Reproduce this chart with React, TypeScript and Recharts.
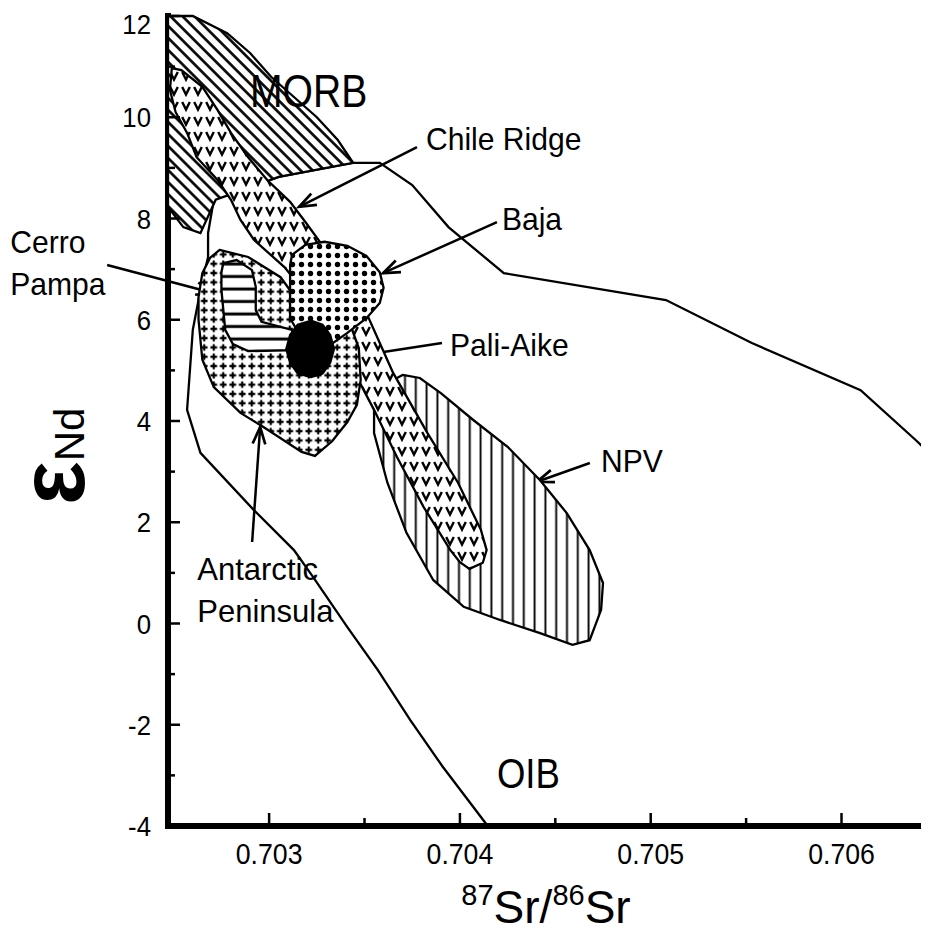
import React from 'react';
import { ScatterChart, Scatter, XAxis, YAxis, ReferenceDot, ReferenceLine } from 'recharts';

const FONT = "'Liberation Sans', Arial, Helvetica, sans-serif";

// ---- axes ----
const xDomain: [number, number] = [0.70247, 0.70649];
const yDomain: [number, number] = [-4, 12];
const xTicks = [0.703, 0.7035, 0.704, 0.7045, 0.705, 0.7055, 0.706];
const yTicks = [-4, -3, -2, -1, 0, 1, 2, 3, 4, 5, 6, 7, 8, 9, 10, 11, 12];

// ---- fields: [87Sr/86Sr, eNd] ----
const oibOutline: [number, number][] = [
  [0.70649, 3.25], [0.70639, 3.62], [0.7061, 4.61], [0.70553, 5.54], [0.70508, 6.39],
  [0.70423, 6.92], [0.70394, 7.83], [0.70375, 8.66], [0.70358, 9.1], [0.70344, 9.1],
  [0.70305, 8.82], [0.70271, 8.37], [0.70268, 7.71], [0.70268, 7.24], [0.70264, 6.59],
  [0.7026, 5.8], [0.70257, 4.22], [0.70264, 3.37], [0.70292, 2.24], [0.70313, 1.45],
  [0.70323, 0.92], [0.70341, -0.07], [0.70357, -0.92], [0.70374, -1.91], [0.70391, -2.83],
  [0.70414, -3.97], [0.70649, -3.97],
];

const morbField: [number, number][] = [
  [0.70247, 12], [0.7026, 12], [0.70278, 11.66], [0.7029, 11.27], [0.70301, 10.8],
  [0.70313, 10.4], [0.70325, 10.0], [0.70336, 9.55], [0.70344, 9.1], [0.70305, 8.82],
  [0.70272, 8.37], [0.70264, 7.71], [0.70255, 7.83], [0.70247, 8.23],
];

const chileRidgeField: [number, number][] = [
  [0.70249, 10.97], [0.70254, 10.93], [0.70265, 10.6], [0.70273, 10.14], [0.7028, 9.69],
  [0.70289, 9.21], [0.70299, 8.76], [0.70311, 8.33], [0.70319, 7.93], [0.70327, 7.52],
  [0.7034, 6.73], [0.70352, 6.05], [0.70365, 4.95], [0.70383, 3.76], [0.70399, 2.78],
  [0.70411, 1.85], [0.70414, 1.45], [0.70412, 1.2], [0.70405, 1.08], [0.704, 1.21],
  [0.70395, 1.45], [0.70381, 2.3], [0.70367, 3.29], [0.70355, 4.22], [0.70344, 5.01],
  [0.70335, 5.7], [0.70322, 6.39], [0.70308, 7.04], [0.70292, 7.58], [0.70285, 7.97],
  [0.7028, 8.37], [0.70273, 8.76], [0.70262, 9.21], [0.70257, 9.69], [0.70251, 10.1],
  [0.70248, 10.54],
];

const npvField: [number, number][] = [
  [0.7037, 4.91], [0.70379, 4.85], [0.7039, 4.55], [0.70407, 4.02], [0.70425, 3.49],
  [0.70442, 2.83], [0.70456, 2.18], [0.70468, 1.45], [0.70475, 0.8], [0.70474, 0.27],
  [0.70468, -0.33], [0.70459, -0.42], [0.70442, -0.19], [0.70421, 0.07], [0.70402, 0.33],
  [0.70386, 0.86], [0.70372, 1.79], [0.70362, 2.78], [0.70355, 3.76], [0.70355, 4.28],
  [0.70362, 4.75],
];

const antarcticField: [number, number][] = [
  [0.70274, 7.38], [0.70289, 7.24], [0.70306, 6.84], [0.70312, 6.53], [0.70327, 6.33],
  [0.70342, 5.96], [0.70347, 5.44], [0.70348, 4.81], [0.70346, 4.32], [0.70341, 3.98],
  [0.70333, 3.6], [0.70324, 3.31], [0.70317, 3.39], [0.70297, 3.88], [0.70285, 4.16],
  [0.70271, 4.67], [0.70265, 5.21], [0.70263, 6.0], [0.70263, 6.45], [0.70265, 6.92],
  [0.70269, 7.22],
];

const cerroPampaField: [number, number][] = [
  [0.70276, 7.12], [0.70283, 7.18], [0.70291, 6.98], [0.70293, 6.65], [0.70293, 6.19],
  [0.70296, 5.96], [0.70312, 5.8], [0.70314, 5.4], [0.70289, 5.38], [0.70281, 5.52],
  [0.70277, 5.8], [0.70275, 6.59], [0.70275, 6.94],
];

const bajaField: [number, number][] = [
  [0.70312, 7.28], [0.70319, 7.48], [0.70329, 7.54], [0.70341, 7.46], [0.70351, 7.26],
  [0.70358, 6.94], [0.7036, 6.63], [0.70358, 6.33], [0.70351, 6.03], [0.70341, 5.74],
  [0.70332, 5.5], [0.70316, 5.7], [0.70311, 6.03], [0.70311, 6.69], [0.70311, 7.08],
];

const paliAikeField: [number, number][] = [
  [0.70334, 5.42], [0.70332, 5.7], [0.70328, 5.9], [0.70322, 5.98], [0.70315, 5.9],
  [0.70311, 5.7], [0.70309, 5.42], [0.70311, 5.15], [0.70315, 4.94], [0.70322, 4.87],
  [0.70328, 4.94], [0.70332, 5.15],
];

// ---- annotations ----
const labelTexts = ['MORB', 'Chile Ridge', 'Baja', 'Pali-Aike', 'NPV', 'Cerro', 'Pampa', 'Antarctic', 'Peninsula', 'OIB'];
const labelSr = [0.7029, 0.703822, 0.70422, 0.703948, 0.704739, 0.701643, 0.701643, 0.702623, 0.702623, 0.704194];
const labelNd = [10.2, 9.35, 7.77, 5.28, 2.99, 7.32, 6.49, 0.86, 0.03, -3.25];
const labelSize = [46, 32, 32, 32, 32, 32, 32, 32, 32, 42];
const labelSquash = [0.85, 0.94, 0.94, 0.94, 0.94, 0.94, 0.94, 0.97, 0.97, 0.87];

const arrowFrom: [number, number][] = [
  [0.703775, 9.41], [0.704194, 7.93], [0.703906, 5.54], [0.704681, 3.17], [0.702151, 7.08], [0.702911, 1.61],
];
const arrowTo: [number, number][] = [
  [0.703157, 8.23], [0.703597, 6.92], [0.703335, 5.21], [0.704404, 2.8], [0.702706, 6.53], [0.702953, 3.88],
];

const pts = (a: [number, number][]) => a.map(([sr, nd]) => ({ sr, nd }));

const Empty = () => <g />;

const isMajorX = (v: number) => Math.abs(v * 1000 - Math.round(v * 1000)) < 1e-6;
const isMajorY = (v: number) => Math.abs(v % 2) < 1e-9;

const Txt = ({ x, y, size, sx = 1, anchor = 'start', dy, children }: any) => (
  <text
    transform={`translate(${x}, ${y}) scale(${sx}, 1)`}
    x={0}
    y={0}
    dy={dy}
    textAnchor={anchor}
    fontSize={size}
    fontFamily={FONT}
    fill="#000"
  >
    {children}
  </text>
);

const BottomTick = (p: any) => {
  const v = p.payload.value;
  const major = isMajorX(v);
  return (
    <g>
      <line x1={p.x} x2={p.x} y1={p.y} y2={p.y - (major ? 13 : 8)} stroke="#000" strokeWidth={2.5} />
      {major && (
        <Txt x={p.x} y={p.y + 38} size={29} sx={0.92} anchor="middle">
          {v.toFixed(3)}
        </Txt>
      )}
    </g>
  );
};

const TopTick = (p: any) => {
  const major = isMajorX(p.payload.value);
  return <line x1={p.x} x2={p.x} y1={p.y} y2={p.y + (major ? 16 : 10)} stroke="#000" strokeWidth={2.5} />;
};

const LeftTick = (p: any) => {
  const v = p.payload.value;
  const major = isMajorY(v);
  return (
    <g>
      <line x1={p.x} x2={p.x + (major ? 12 : 7)} y1={p.y} y2={p.y} stroke="#000" strokeWidth={2.5} />
      {major && (
        <Txt x={p.x - 17} y={p.y + (v === 12 ? 8 : 0)} dy="0.36em" size={28} sx={0.92} anchor="end">
          {String(v)}
        </Txt>
      )}
    </g>
  );
};

const RightTick = (p: any) => {
  const major = isMajorY(p.payload.value);
  return <line x1={p.x} x2={p.x - (major ? 13 : 7)} y1={p.y} y2={p.y} stroke="#000" strokeWidth={2.5} />;
};

const XTitle = (p: any) => {
  const vb = p.viewBox;
  return (
    <text x={vb.x + 378} y={vb.y + 97} textAnchor="middle" fontFamily={FONT} fill="#000">
      <tspan fontSize={29} dy={-18}>87</tspan>
      <tspan fontSize={46} dy={18}>Sr/</tspan>
      <tspan fontSize={29} dy={-18}>86</tspan>
      <tspan fontSize={46} dy={18}>Sr</tspan>
    </text>
  );
};

const YTitle = (p: any) => {
  const vb = p.viewBox;
  return (
    <text transform={`translate(${vb.x + 76}, ${vb.y + 489}) rotate(-90)`} fontFamily={FONT} fill="#000">
      <tspan fontSize={92} fontWeight="bold">ε</tspan>
      <tspan fontSize={42}>Nd</tspan>
    </text>
  );
};

const ArrowShape = (p: any) => {
  const { x1, y1, x2, y2 } = p;
  const ang = Math.atan2(y2 - y1, x2 - x1);
  const L = 18;
  const a = 0.36;
  const b1x = x2 - L * Math.cos(ang - a);
  const b1y = y2 - L * Math.sin(ang - a);
  const b2x = x2 - L * Math.cos(ang + a);
  const b2y = y2 - L * Math.sin(ang + a);
  return (
    <g>
      <line x1={x1} y1={y1} x2={x2} y2={y2} stroke="#000" strokeWidth={2.5} />
      <path d={`M${b1x},${b1y} L${x2},${y2} L${b2x},${b2y}`} fill="none" stroke="#000" strokeWidth={2.7} />
    </g>
  );
};

const makeLabelShape = (text: string, size: number, sx: number) => (p: any) => (
  <Txt x={p.cx} y={p.cy} size={size} sx={sx}>{text}</Txt>
);

const Patterns = () => (
  <svg width="0" height="0" style={{ position: 'absolute' }}>
    <defs>
      <pattern id="pMorb" width="8.5" height="8.5" patternUnits="userSpaceOnUse" patternTransform="rotate(45)">
        <rect width="8.5" height="8.5" fill="#fff" />
        <line x1="0" y1="4.25" x2="8.5" y2="4.25" stroke="#000" strokeWidth="2.6" />
      </pattern>
      <pattern id="pNpv" width="10.8" height="10" patternUnits="userSpaceOnUse">
        <rect width="10.8" height="10" fill="#fff" />
        <line x1="5.4" y1="0" x2="5.4" y2="10" stroke="#000" strokeWidth="1.9" />
      </pattern>
      <pattern id="pCerro" width="10" height="12.5" patternUnits="userSpaceOnUse">
        <rect width="10" height="12.5" fill="#fff" />
        <line x1="0" y1="6" x2="10" y2="6" stroke="#000" strokeWidth="3" />
      </pattern>
      <pattern id="pBaja" width="9" height="9" patternUnits="userSpaceOnUse">
        <rect width="9" height="9" fill="#fff" />
        <circle cx="4.5" cy="4.5" r="2.7" fill="#000" />
      </pattern>
      <pattern id="pAnt" width="9.5" height="9.3" patternUnits="userSpaceOnUse">
        <rect width="9.5" height="9.3" fill="#fff" />
        <path d="M4.75,1.3 V8 M1.4,4.65 H8.1" stroke="#000" strokeWidth="2.1" />
        <circle cx="4.75" cy="4.65" r="1.7" fill="#000" />
      </pattern>
      <pattern id="pV" width="12" height="15" patternUnits="userSpaceOnUse">
        <rect width="12" height="15" fill="#fff" />
        <path d="M2.2,4 L6,11.5 L9.8,4" fill="none" stroke="#000" strokeWidth="2.4" />
      </pattern>
    </defs>
  </svg>
);

const fields = [
  { data: morbField, fill: 'url(#pMorb)' },
  { data: npvField, fill: 'url(#pNpv)' },
  { data: chileRidgeField, fill: 'url(#pV)' },
  { data: antarcticField, fill: 'url(#pAnt)' },
  { data: cerroPampaField, fill: 'url(#pCerro)' },
  { data: bajaField, fill: 'url(#pBaja)' },
  { data: paliAikeField, fill: '#000' },
];

export default function App() {
  return (
    <div
      style={{
        width: 929,
        height: 930,
        marginLeft: -8,
        marginBottom: -8,
        overflow: 'hidden',
        position: 'relative',
        fontFamily: FONT,
      }}
    >
      <Patterns />
      <ScatterChart width={935} height={930} margin={{ top: 8, right: 0, bottom: 0, left: 8 }}>
        <Scatter
          data={pts(oibOutline)}
          shape={Empty}
          line={{ stroke: '#000', strokeWidth: 2.3, fill: 'none' }}
          lineType="joint"
          lineJointType="linear"
          isAnimationActive={false}
          legendType="none"
        />
        {fields.map((f, i) => (
          <Scatter
            key={i}
            data={pts(f.data)}
            shape={Empty}
            line={{ stroke: '#000', strokeWidth: 2.3, fill: f.fill }}
            lineType="joint"
            lineJointType="linearClosed"
            isAnimationActive={false}
            legendType="none"
          />
        ))}
        {arrowFrom.map((f, i) => (
          <ReferenceLine
            key={'a' + i}
            segment={[{ x: f[0], y: f[1] }, { x: arrowTo[i][0], y: arrowTo[i][1] }]}
            ifOverflow="visible"
            shape={ArrowShape}
          />
        ))}
        {labelTexts.map((t, i) => (
          <ReferenceDot
            key={'l' + i}
            x={labelSr[i]}
            y={labelNd[i]}
            ifOverflow="visible"
            shape={makeLabelShape(t, labelSize[i], labelSquash[i])}
          />
        ))}
        <XAxis
          dataKey="sr"
          type="number"
          domain={xDomain}
          ticks={xTicks}
          interval={0}
          height={112}
          tickSize={0}
          tickMargin={0}
          tickLine={false}
          axisLine={{ stroke: '#000', strokeWidth: 6, strokeLinecap: 'square' }}
          tick={BottomTick}
          label={{ content: XTitle }}
        />
        <XAxis
          xAxisId="top"
          orientation="top"
          type="number"
          domain={xDomain}
          ticks={xTicks}
          interval={0}
          height={0}
          tickSize={0}
          tickMargin={0}
          tickLine={false}
          axisLine={{ stroke: '#000', strokeWidth: 6, strokeLinecap: 'square' }}
          tick={TopTick}
        />
        <YAxis
          dataKey="nd"
          type="number"
          domain={yDomain}
          ticks={yTicks}
          interval={0}
          width={160}
          tickSize={0}
          tickMargin={0}
          tickLine={false}
          axisLine={{ stroke: '#000', strokeWidth: 6, strokeLinecap: 'square' }}
          tick={LeftTick}
          label={{ content: YTitle }}
        />
        <YAxis
          yAxisId="right"
          orientation="right"
          type="number"
          domain={yDomain}
          ticks={yTicks}
          interval={0}
          width={0}
          tickSize={0}
          tickMargin={0}
          tickLine={false}
          axisLine={{ stroke: '#000', strokeWidth: 6 }}
          tick={RightTick}
        />
      </ScatterChart>
    </div>
  );
}
